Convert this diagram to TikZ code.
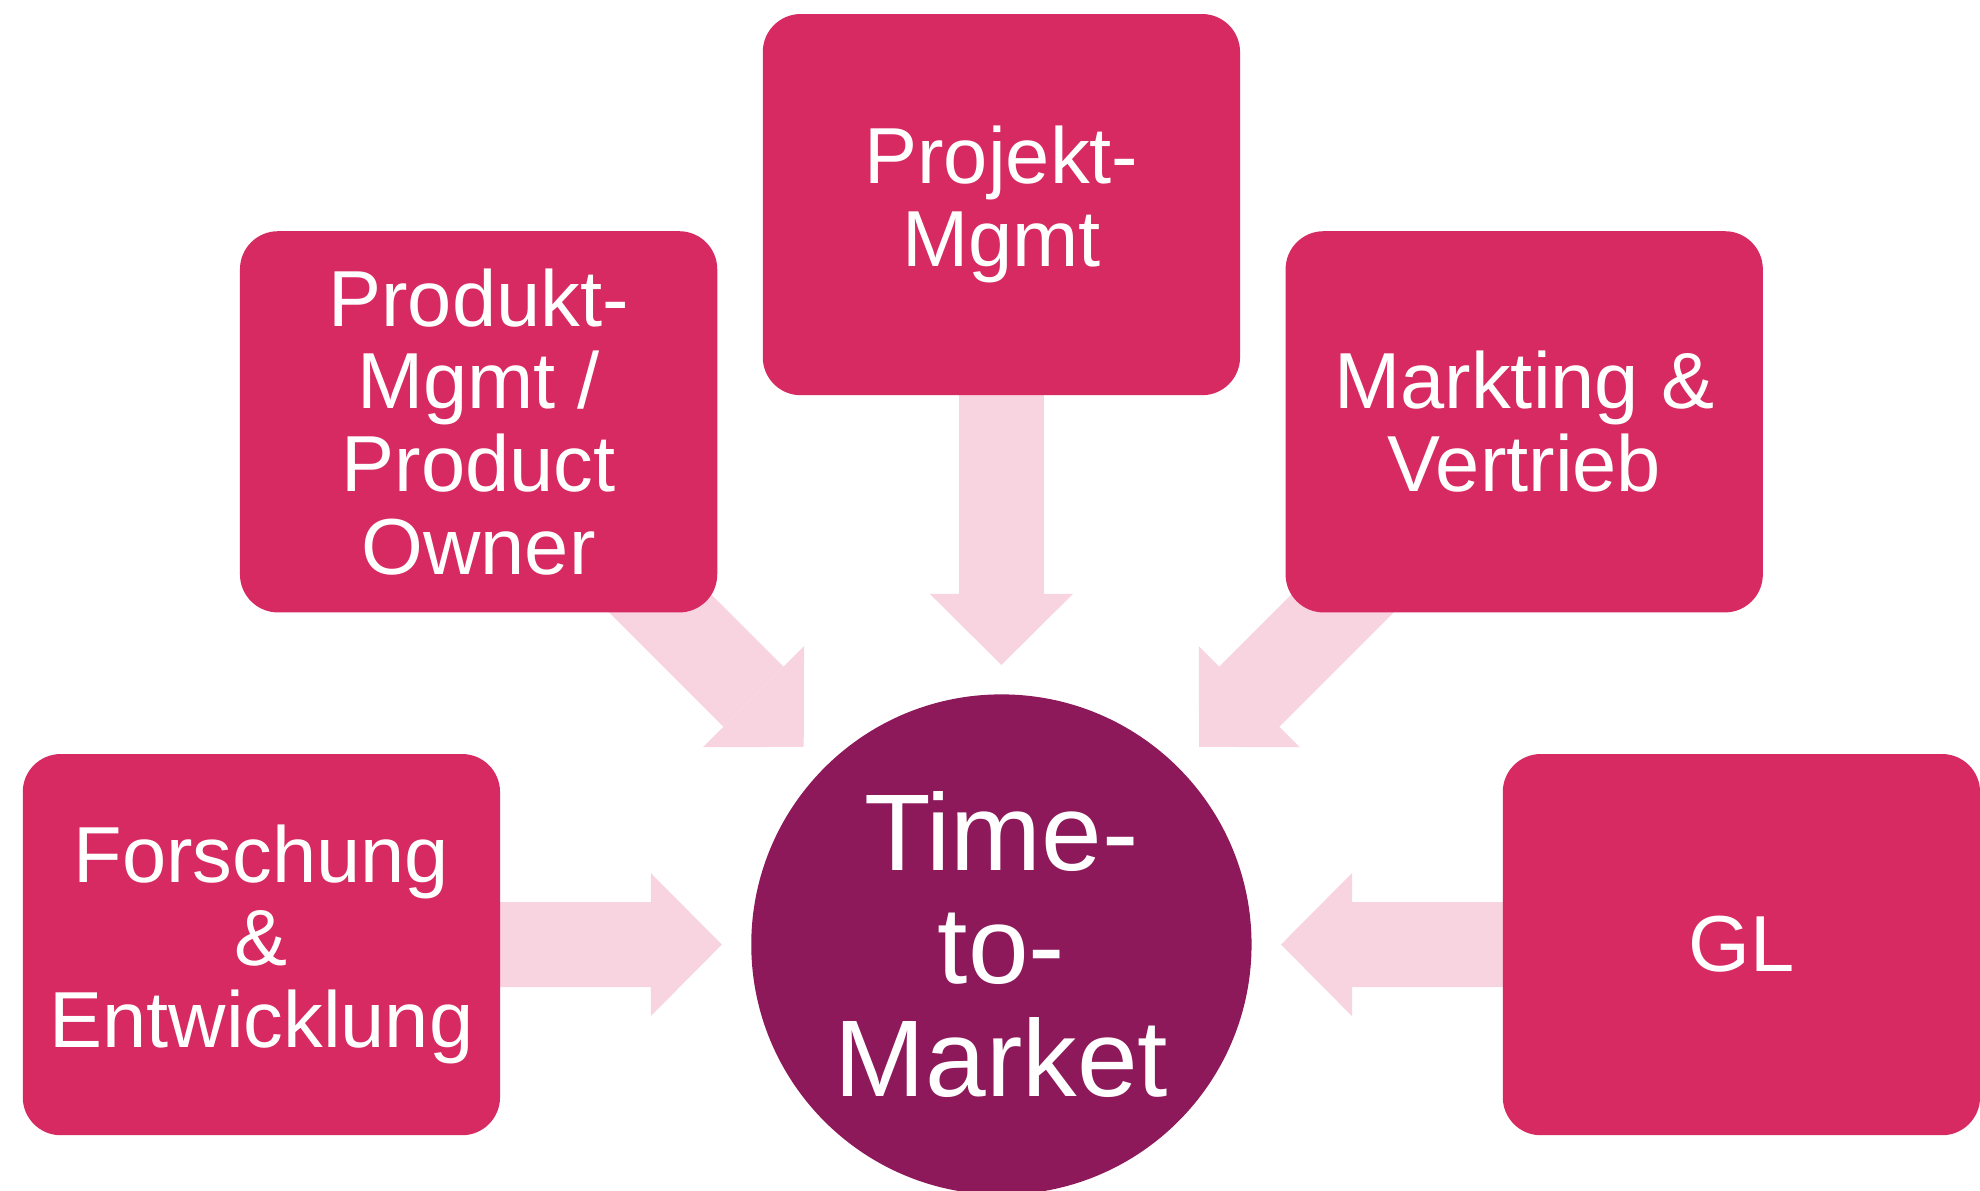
\documentclass[tikz,border=0pt]{standalone}
\usepackage{fontspec}
\setmainfont{Liberation Sans}
\usetikzlibrary{arrows.meta,backgrounds}
\definecolor{boxpink}{RGB}{215,41,98}
\definecolor{hubplum}{RGB}{141,25,91}
\definecolor{flowpink}{RGB}{247,212,223}

\begin{document}
\begin{tikzpicture}[x=0.01cm, y=-0.01cm,
    box/.style={rectangle, rounded corners=0.38cm, fill=boxpink, text=white,
        minimum width=4.77cm, minimum height=3.81cm, align=center, inner sep=0pt,
        font=\fontsize{22.6}{23.5}\selectfont},
    hub/.style={circle, fill=hubplum, text=white, minimum size=5cm, inner sep=0pt,
        align=center, font=\fontsize{31}{32}\selectfont},
    flow/.style={draw=flowpink, line width=0.85cm, shorten >=0.287cm,
        -{Triangle[width=1.43cm, length=0.71cm, line width=0pt, fill=flowpink]}}]
    \useasboundingbox (0,0) rectangle (1980,1190);

    \node[hub] (ttm) at (1001.4,944.5) {Time-\\to-\\Market};

    \node[box] (pm)  at (1001.4,204.6) {Projekt-\\Mgmt};
    \node[box] (po)  at (478.6,421.8)  {Produkt-\\Mgmt /\\Product\\Owner};
    \node[box] (mv)  at (1524.2,421.8) {Markting \&\\Vertrieb};
    \node[box] (fe)  at (261.4,944.6)  {Forschung\\\&\\Entwicklung};
    \node[box] (gl)  at (1741.4,944.6) {GL};

    % block arrows behind the boxes
    \begin{scope}[on background layer]
        \draw[flow] (pm.center) -- (ttm);
        \draw[flow] (po.center) -- (ttm);
        \draw[flow] (mv.center) -- (ttm);
        \draw[flow] (fe.center) -- (ttm);
        \draw[flow] (gl.center) -- (ttm);
    \end{scope}
\end{tikzpicture}
\end{document}
